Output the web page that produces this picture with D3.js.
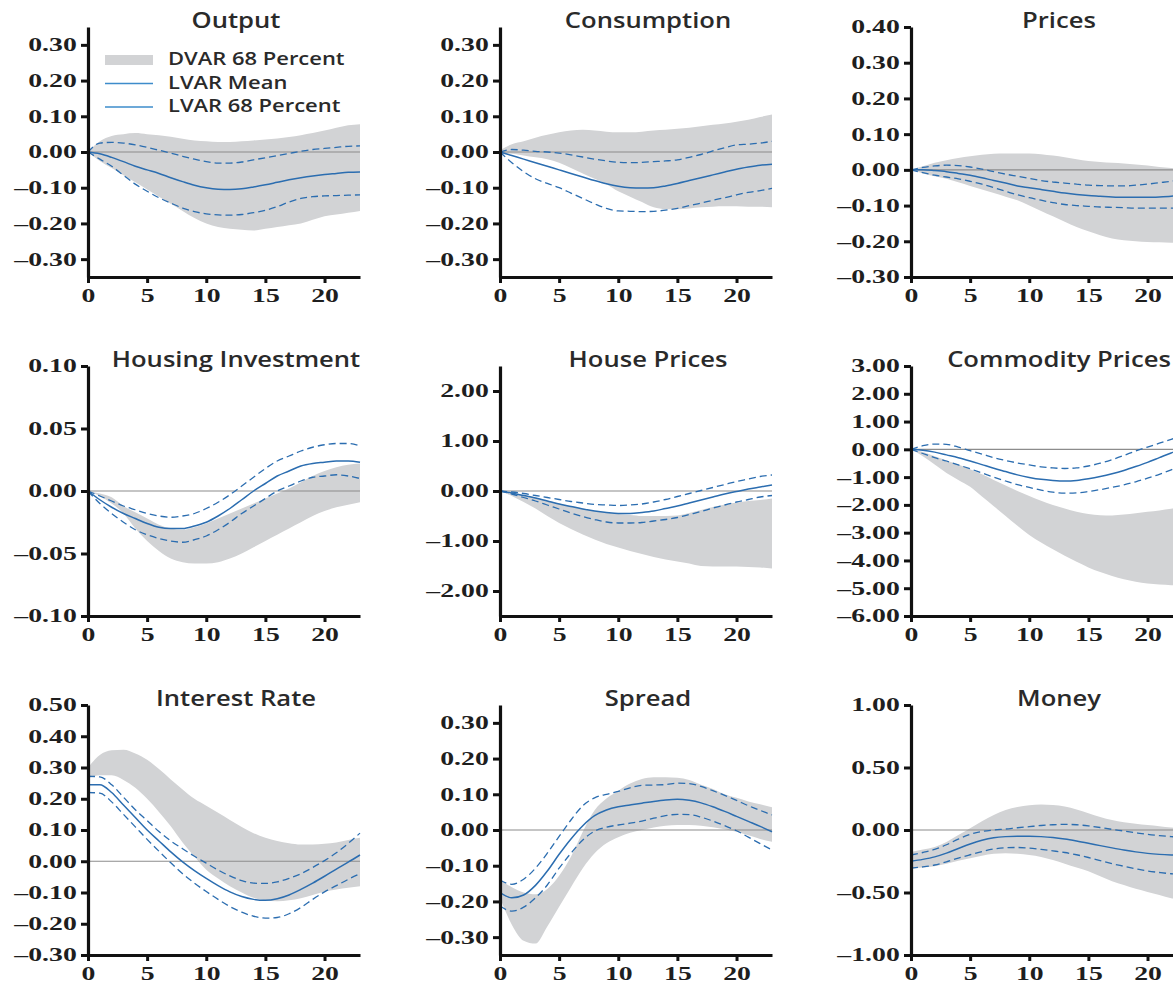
<!DOCTYPE html>
<html>
<head>
<meta charset="utf-8">
<script src="https://cdn.jsdelivr.net/npm/d3@7"></script>
<style>
  html, body { margin: 0; padding: 0; background: #fff; overflow: hidden; }
  svg { display: block; }
</style>
</head>
<body>
<div id="chart"></div>
<script>
// horizons (quarters after the shock)
const horizons = [0,1,2,3,4,5,6,7,8,9,10,11,12,13,14,15,16,17,18,19,20,21,22,23];
const xTicks = [0, 5, 10, 15, 20];

const panelTitles = ['Output', 'Consumption', 'Prices',
                     'Housing Investment', 'House Prices', 'Commodity Prices',
                     'Interest Rate', 'Spread', 'Money'];
const legendLabels = ['DVAR 68 Percent', 'LVAR Mean', 'LVAR 68 Percent'];

// y ranges and tick labels of every panel
const yDomains = [[-0.35, 0.35], [-0.35, 0.35], [-0.3, 0.4],
                  [-0.1, 0.1], [-2.5, 2.5], [-6, 3],
                  [-0.3, 0.5], [-0.35, 0.35], [-1, 1]];
const yTicks = [
  [-0.3, -0.2, -0.1, 0, 0.1, 0.2, 0.3],
  [-0.3, -0.2, -0.1, 0, 0.1, 0.2, 0.3],
  [-0.3, -0.2, -0.1, 0, 0.1, 0.2, 0.3, 0.4],
  [-0.1, -0.05, 0, 0.05, 0.1],
  [-2, -1, 0, 1, 2],
  [-6, -5, -4, -3, -2, -1, 0, 1, 2, 3],
  [-0.3, -0.2, -0.1, 0, 0.1, 0.2, 0.3, 0.4, 0.5],
  [-0.3, -0.2, -0.1, 0, 0.1, 0.2, 0.3],
  [-1, -0.5, 0, 0.5, 1]
];

// Output
const outputMean  = [0,-0.005,-0.015,-0.027,-0.04,-0.05,-0.06,-0.072,-0.083,-0.093,-0.1,-0.104,-0.105,-0.103,-0.098,-0.092,-0.085,-0.078,-0.072,-0.067,-0.063,-0.06,-0.057,-0.056];
const outputLvHi  = [0,0.025,0.027,0.025,0.02,0.013,0.005,-0.003,-0.012,-0.02,-0.027,-0.031,-0.031,-0.028,-0.022,-0.016,-0.01,-0.004,0.002,0.007,0.01,0.013,0.016,0.017];
const outputLvLo  = [0,-0.02,-0.04,-0.065,-0.09,-0.11,-0.128,-0.143,-0.157,-0.167,-0.173,-0.176,-0.177,-0.175,-0.17,-0.163,-0.153,-0.14,-0.13,-0.125,-0.123,-0.122,-0.121,-0.12];
const outputDvHi  = [0,0.03,0.045,0.05,0.053,0.05,0.047,0.043,0.037,0.032,0.03,0.028,0.028,0.03,0.032,0.035,0.038,0.042,0.047,0.053,0.06,0.068,0.075,0.078];
const outputDvLo  = [0,-0.025,-0.045,-0.065,-0.085,-0.105,-0.125,-0.145,-0.165,-0.185,-0.2,-0.21,-0.215,-0.218,-0.22,-0.215,-0.21,-0.205,-0.2,-0.19,-0.18,-0.175,-0.17,-0.165];

// Consumption
const consMean = [0,-0.01,-0.02,-0.03,-0.04,-0.05,-0.06,-0.07,-0.08,-0.089,-0.096,-0.1,-0.101,-0.1,-0.095,-0.088,-0.08,-0.072,-0.064,-0.056,-0.048,-0.042,-0.037,-0.034];
const consLvHi = [0,0.007,0.005,0.002,0,-0.003,-0.008,-0.014,-0.02,-0.025,-0.029,-0.03,-0.029,-0.027,-0.025,-0.022,-0.015,-0.007,0.003,0.012,0.02,0.022,0.025,0.03];
const consLvLo = [0,-0.03,-0.055,-0.075,-0.088,-0.1,-0.115,-0.13,-0.145,-0.158,-0.165,-0.166,-0.167,-0.166,-0.163,-0.158,-0.15,-0.143,-0.135,-0.128,-0.12,-0.113,-0.108,-0.102];
const consDvHi = [0.005,0.022,0.03,0.04,0.048,0.055,0.06,0.062,0.06,0.057,0.055,0.055,0.057,0.06,0.062,0.065,0.068,0.072,0.076,0.08,0.085,0.09,0.098,0.105];
const consDvLo = [-0.005,-0.005,-0.01,-0.015,-0.02,-0.03,-0.045,-0.06,-0.075,-0.09,-0.11,-0.125,-0.14,-0.155,-0.16,-0.16,-0.158,-0.155,-0.153,-0.152,-0.152,-0.153,-0.153,-0.155];

// Prices
const pricesMean = [0,0,-0.002,-0.005,-0.01,-0.015,-0.022,-0.03,-0.037,-0.045,-0.05,-0.055,-0.06,-0.065,-0.069,-0.072,-0.074,-0.076,-0.077,-0.077,-0.077,-0.076,-0.074,-0.07];
const pricesLvHi = [0,0.007,0.011,0.013,0.012,0.008,0.002,-0.005,-0.012,-0.018,-0.024,-0.03,-0.034,-0.037,-0.04,-0.043,-0.044,-0.045,-0.045,-0.043,-0.04,-0.036,-0.032,-0.026];
const pricesLvLo = [0,-0.008,-0.015,-0.02,-0.025,-0.032,-0.04,-0.05,-0.06,-0.07,-0.078,-0.085,-0.092,-0.097,-0.1,-0.102,-0.104,-0.105,-0.106,-0.107,-0.107,-0.107,-0.107,-0.106];
const pricesDvHi = [0,0.01,0.02,0.027,0.033,0.038,0.042,0.045,0.046,0.046,0.046,0.044,0.04,0.035,0.03,0.025,0.022,0.02,0.018,0.015,0.012,0.008,0.005,0.002];
const pricesDvLo = [0,-0.01,-0.018,-0.025,-0.035,-0.045,-0.055,-0.065,-0.075,-0.085,-0.1,-0.115,-0.13,-0.145,-0.16,-0.172,-0.183,-0.192,-0.197,-0.2,-0.202,-0.203,-0.204,-0.205];

// Housing Investment
const housInvMean = [0,-0.007,-0.013,-0.018,-0.022,-0.026,-0.029,-0.03,-0.03,-0.028,-0.025,-0.02,-0.014,-0.007,0,0.006,0.012,0.016,0.02,0.022,0.023,0.024,0.024,0.023];
const housInvLvHi = [0,-0.004,-0.008,-0.012,-0.015,-0.018,-0.02,-0.021,-0.02,-0.018,-0.014,-0.009,-0.003,0.004,0.011,0.018,0.024,0.028,0.032,0.035,0.037,0.038,0.038,0.036];
const housInvLvLo = [0,-0.01,-0.018,-0.025,-0.031,-0.035,-0.038,-0.04,-0.041,-0.039,-0.036,-0.031,-0.025,-0.018,-0.012,-0.006,0,0.004,0.008,0.011,0.012,0.013,0.012,0.01];
const housInvDvHi = [0,-0.002,-0.005,-0.012,-0.017,-0.022,-0.027,-0.03,-0.031,-0.029,-0.026,-0.022,-0.018,-0.014,-0.01,-0.006,-0.002,0.002,0.007,0.012,0.016,0.019,0.021,0.022];
const housInvDvLo = [0,-0.004,-0.01,-0.018,-0.03,-0.04,-0.048,-0.054,-0.057,-0.058,-0.058,-0.057,-0.054,-0.05,-0.045,-0.04,-0.035,-0.03,-0.025,-0.02,-0.016,-0.013,-0.011,-0.009];

// House Prices
const hpMean = [0,-0.04,-0.09,-0.14,-0.2,-0.26,-0.31,-0.36,-0.4,-0.43,-0.45,-0.45,-0.43,-0.4,-0.35,-0.3,-0.24,-0.18,-0.12,-0.06,-0.01,0.04,0.08,0.12];
const hpLvHi = [0,-0.02,-0.05,-0.09,-0.13,-0.17,-0.21,-0.24,-0.27,-0.28,-0.29,-0.28,-0.26,-0.22,-0.17,-0.11,-0.05,0.01,0.07,0.13,0.19,0.24,0.29,0.32];
const hpLvLo = [0,-0.06,-0.13,-0.2,-0.28,-0.36,-0.44,-0.51,-0.57,-0.62,-0.64,-0.64,-0.63,-0.6,-0.57,-0.53,-0.47,-0.41,-0.34,-0.28,-0.22,-0.17,-0.12,-0.09];
const hpDvHi = [0,-0.03,-0.08,-0.13,-0.19,-0.25,-0.3,-0.35,-0.4,-0.43,-0.46,-0.48,-0.5,-0.5,-0.5,-0.49,-0.44,-0.38,-0.32,-0.27,-0.23,-0.2,-0.18,-0.15];
const hpDvLo = [0,-0.1,-0.22,-0.35,-0.5,-0.64,-0.76,-0.87,-0.97,-1.06,-1.13,-1.2,-1.26,-1.32,-1.37,-1.41,-1.45,-1.5,-1.51,-1.51,-1.51,-1.52,-1.53,-1.55];

// Commodity Prices
const compMean = [0,-0.03,-0.1,-0.2,-0.3,-0.42,-0.55,-0.68,-0.8,-0.92,-1.01,-1.08,-1.12,-1.14,-1.12,-1.06,-0.98,-0.88,-0.76,-0.62,-0.47,-0.3,-0.13,0.02];
const compLvHi = [0,0.13,0.19,0.18,0.08,-0.05,-0.17,-0.3,-0.4,-0.49,-0.56,-0.63,-0.67,-0.69,-0.67,-0.6,-0.5,-0.37,-0.22,-0.06,0.08,0.22,0.36,0.5];
const compLvLo = [0,-0.15,-0.3,-0.42,-0.56,-0.7,-0.85,-1,-1.14,-1.27,-1.37,-1.47,-1.54,-1.58,-1.57,-1.52,-1.45,-1.37,-1.28,-1.17,-1.04,-0.9,-0.74,-0.58];
const compDvHi = [0,-0.1,-0.25,-0.4,-0.55,-0.72,-0.9,-1.1,-1.3,-1.5,-1.68,-1.85,-2,-2.13,-2.25,-2.33,-2.37,-2.38,-2.35,-2.3,-2.25,-2.2,-2.14,-2.1];
const compDvLo = [0,-0.25,-0.55,-0.85,-1.1,-1.35,-1.7,-2.05,-2.4,-2.75,-3.08,-3.35,-3.6,-3.83,-4.05,-4.25,-4.42,-4.56,-4.68,-4.77,-4.83,-4.87,-4.89,-4.9];

// Interest Rate
const rateMean = [0.245,0.245,0.22,0.18,0.14,0.1,0.065,0.03,-0.002,-0.03,-0.055,-0.078,-0.098,-0.113,-0.122,-0.125,-0.12,-0.108,-0.09,-0.07,-0.048,-0.025,-0.003,0.02];
const rateLvHi = [0.272,0.27,0.245,0.205,0.165,0.13,0.095,0.065,0.04,0.016,-0.006,-0.028,-0.047,-0.062,-0.07,-0.071,-0.066,-0.055,-0.04,-0.02,0.002,0.027,0.057,0.09];
const rateLvLo = [0.22,0.218,0.19,0.15,0.11,0.07,0.032,-0.005,-0.04,-0.07,-0.097,-0.122,-0.145,-0.163,-0.176,-0.182,-0.18,-0.168,-0.148,-0.122,-0.098,-0.078,-0.058,-0.04];
const rateDvHi = [0.3,0.34,0.355,0.357,0.345,0.325,0.295,0.262,0.23,0.2,0.178,0.155,0.132,0.11,0.09,0.075,0.065,0.058,0.054,0.054,0.056,0.06,0.068,0.075];
const rateDvLo = [0.265,0.275,0.275,0.26,0.235,0.2,0.158,0.112,0.06,0.015,-0.027,-0.055,-0.08,-0.1,-0.117,-0.125,-0.128,-0.125,-0.118,-0.108,-0.097,-0.09,-0.085,-0.08];

// Spread
const spreadMean = [-0.175,-0.19,-0.182,-0.155,-0.115,-0.068,-0.025,0.012,0.04,0.056,0.065,0.07,0.075,0.08,0.084,0.086,0.083,0.076,0.065,0.052,0.038,0.024,0.01,-0.005];
const spreadLvHi = [-0.14,-0.152,-0.138,-0.107,-0.065,-0.018,0.028,0.068,0.09,0.1,0.108,0.118,0.125,0.126,0.127,0.131,0.13,0.122,0.11,0.097,0.083,0.068,0.055,0.042];
const spreadLvLo = [-0.213,-0.227,-0.216,-0.19,-0.154,-0.107,-0.065,-0.028,-0.003,0.008,0.014,0.019,0.025,0.033,0.04,0.044,0.043,0.036,0.025,0.012,-0.002,-0.02,-0.038,-0.056];
const spreadDvHi = [-0.14,-0.16,-0.175,-0.18,-0.165,-0.128,-0.075,-0.005,0.055,0.088,0.11,0.13,0.143,0.148,0.148,0.146,0.14,0.127,0.115,0.1,0.09,0.08,0.072,0.064];
const spreadDvLo = [-0.19,-0.265,-0.31,-0.318,-0.27,-0.215,-0.16,-0.107,-0.065,-0.037,-0.02,-0.008,0,0.007,0.012,0.014,0.014,0.012,0.008,0.002,-0.005,-0.015,-0.025,-0.033];

// Money
const moneyMean = [-0.25,-0.235,-0.215,-0.185,-0.148,-0.112,-0.082,-0.062,-0.053,-0.05,-0.05,-0.053,-0.06,-0.072,-0.088,-0.106,-0.125,-0.143,-0.16,-0.175,-0.187,-0.195,-0.2,-0.203];
const moneyLvHi = [-0.2,-0.18,-0.155,-0.118,-0.073,-0.035,-0.012,0,0.008,0.018,0.027,0.036,0.042,0.045,0.042,0.033,0.02,0.005,-0.008,-0.022,-0.035,-0.045,-0.053,-0.06];
const moneyLvLo = [-0.305,-0.295,-0.28,-0.255,-0.225,-0.198,-0.172,-0.152,-0.142,-0.14,-0.145,-0.155,-0.167,-0.18,-0.198,-0.22,-0.245,-0.27,-0.29,-0.31,-0.328,-0.34,-0.35,-0.355];
const moneyDvHi = [-0.175,-0.155,-0.135,-0.095,-0.04,0.015,0.07,0.12,0.16,0.185,0.198,0.205,0.2,0.188,0.165,0.135,0.105,0.08,0.062,0.05,0.04,0.03,0.02,0.015];
const moneyDvLo = [-0.31,-0.3,-0.29,-0.27,-0.245,-0.225,-0.205,-0.19,-0.185,-0.19,-0.2,-0.215,-0.24,-0.27,-0.3,-0.33,-0.37,-0.41,-0.44,-0.47,-0.495,-0.52,-0.545,-0.56];

const series = [
  [outputMean, outputLvHi, outputLvLo, outputDvHi, outputDvLo],
  [consMean, consLvHi, consLvLo, consDvHi, consDvLo],
  [pricesMean, pricesLvHi, pricesLvLo, pricesDvHi, pricesDvLo],
  [housInvMean, housInvLvHi, housInvLvLo, housInvDvHi, housInvDvLo],
  [hpMean, hpLvHi, hpLvLo, hpDvHi, hpDvLo],
  [compMean, compLvHi, compLvLo, compDvHi, compDvLo],
  [rateMean, rateLvHi, rateLvLo, rateDvHi, rateDvLo],
  [spreadMean, spreadLvHi, spreadLvLo, spreadDvHi, spreadDvLo],
  [moneyMean, moneyLvHi, moneyLvLo, moneyDvHi, moneyDvLo]
];

// ---- layout ----
const W = 1173, H = 987;
const colLeft = [88, 500, 911];
const rowTop = [27, 366, 705];
const plotW = 272, plotH = 250;
const blue = '#2b6db0', band = '#d2d3d5';
const tickFont = '"Liberation Serif", "Times New Roman", serif';
const textFont = '"Open Sans", "Noto Sans", sans-serif';
const stretch = 1.5, titleStretch = 1.22;

const svg = d3.select('#chart').append('svg')
  .attr('width', W).attr('height', H);

const fmt = v => (v < 0 ? '\u2013' : '') + d3.format('.2f')(Math.abs(v));

panelTitles.forEach(function(title, i) {
  const g = svg.append('g')
    .attr('transform', `translate(${colLeft[i % 3]},${rowTop[Math.floor(i / 3)]})`);

  const x = d3.scaleLinear().domain([0, 23]).range([0, plotW]);
  const y = d3.scaleLinear().domain(yDomains[i]).range([plotH, 0]);
  const [mean, lvHi, lvLo, dvHi, dvLo] = series[i];

  // DVAR band
  const area = d3.area()
    .x((d, k) => x(horizons[k]))
    .y0((d, k) => y(dvLo[k]))
    .y1(d => y(d))
    .curve(d3.curveMonotoneX);
  g.append('path').datum(dvHi)
    .attr('d', area).attr('fill', band);

  // zero line
  g.append('line')
    .attr('x1', x(0)).attr('x2', x(23))
    .attr('y1', y(0)).attr('y2', y(0))
    .attr('stroke', '#8c8c8c').attr('stroke-width', 1.2);

  const line = d3.line()
    .x((d, k) => x(horizons[k]))
    .y(d => y(d))
    .curve(d3.curveMonotoneX);

  [lvHi, lvLo].forEach(function(s) {
    g.append('path').datum(s)
      .attr('d', line).attr('fill', 'none')
      .attr('stroke', blue).attr('stroke-width', 1.3)
      .attr('stroke-dasharray', '7,4');
  });
  g.append('path').datum(mean)
    .attr('d', line).attr('fill', 'none')
    .attr('stroke', blue).attr('stroke-width', 1.5);

  // axes
  const yAxis = g.append('g')
    .call(d3.axisLeft(y).tickValues(yTicks[i]).tickFormat(fmt)
      .tickSize(7).tickSizeOuter(0));
  const xAxis = g.append('g')
    .attr('transform', `translate(0,${plotH})`)
    .call(d3.axisBottom(x).tickValues(xTicks).tickFormat(d3.format('d'))
      .tickSize(6).tickSizeOuter(0));

  [yAxis, xAxis].forEach(function(ax) {
    ax.select('.domain').attr('stroke', '#111').attr('stroke-width', 3.2);
    ax.selectAll('.tick line').attr('stroke', '#111').attr('stroke-width', 3);
    ax.selectAll('.tick text')
      .attr('fill', '#1e1e1e')
      .style('font-family', tickFont)
      .style('font-weight', 'bold')
      .style('font-size', '18.5px');
  });
  yAxis.selectAll('.tick text').attr('x', -7.5).attr('transform', `scale(${stretch},1)`);
  xAxis.selectAll('.tick text').attr('y', 12).attr('transform', `scale(${stretch},1)`);

  // title
  g.append('text')
    .attr('transform', `translate(148,1) scale(${titleStretch},1)`)
    .attr('text-anchor', 'middle')
    .attr('fill', '#2a2a2a')
    .style('font-family', textFont)
    .style('font-weight', 600)
    .style('font-size', '21px')
    .text(title);

  // legend in the first panel
  if (i === 0) {
    const lg = g.append('g').attr('transform', 'translate(17,28)');
    lg.append('rect').attr('x', 0).attr('y', 0)
      .attr('width', 48).attr('height', 10).attr('fill', band);
    [1, 2].forEach(function(k) {
      lg.append('line')
        .attr('x1', 0).attr('x2', 48)
        .attr('y1', 5 + k * 23.5).attr('y2', 5 + k * 23.5)
        .attr('stroke', '#3d8ccb').attr('stroke-width', 1.6);
    });
    legendLabels.forEach(function(lbl, k) {
      lg.append('text')
        .attr('transform', `translate(63,${10 + k * 23.5}) scale(${titleStretch},1)`)
        .attr('fill', '#2a2a2a')
        .style('font-family', textFont)
        .style('font-weight', 600)
        .style('font-size', '18px')
        .text(lbl);
    });
  }
});
</script>
</body>
</html>
